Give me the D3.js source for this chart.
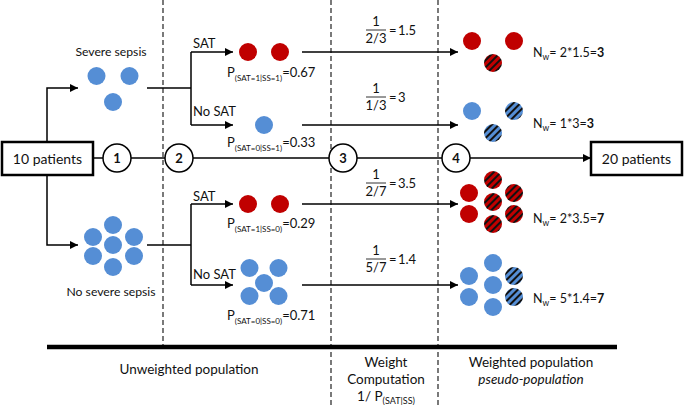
<!DOCTYPE html>
<html><head><meta charset="utf-8">
<script src="https://cdn.jsdelivr.net/npm/d3@7"></script>
<style>body{margin:0;background:#fff} svg{display:block;font-family:Lato,'Open Sans',sans-serif}</style>
</head><body><svg id="c" width="685" height="405"></svg>
<script>
// ---- data ----
const groups = ["Severe sepsis", "No severe sepsis"];
const groupCounts = [3, 7];
const treatmentLabels = ["SAT", "No SAT", "SAT", "No SAT"];
const treatmentCounts = [2, 1, 2, 5];
const probLabels = ["SAT=1|SS=1", "SAT=0|SS=1", "SAT=1|SS=0", "SAT=0|SS=0"];
const probValues = [0.67, 0.33, 0.29, 0.71];
const fracDenoms = ["2/3", "1/3", "2/7", "5/7"];
const weights = [1.5, 3, 3.5, 1.4];
const weightedN = [3, 3, 7, 7];
const stepLabels = ["1", "2", "3", "4"];
const totalLabels = ["10 patients", "20 patients"];

// ---- layout ----
const RED = "#C00000", BLUE = "#558ED5";
const svg = d3.select("#c");
const defs = svg.append("defs");
defs.append("marker").attr("id","ah").attr("viewBox","0 0 10 10").attr("refX",10).attr("refY",5)
  .attr("markerUnits","userSpaceOnUse").attr("markerWidth",9).attr("markerHeight",8).attr("orient","auto")
  .append("path").attr("d","M0,0L10,5L0,10z").attr("fill","#000");
[["stR",RED],["stB",BLUE]].forEach(([id,c])=>{
  const p = defs.append("pattern").attr("id",id).attr("patternUnits","userSpaceOnUse")
    .attr("width",5).attr("height",5).attr("patternTransform","rotate(45)");
  p.append("rect").attr("width",5).attr("height",5).attr("fill",c);
  p.append("rect").attr("width",2).attr("height",5).attr("fill","#111");
});

const mainY = 158;
const rowY = [52, 125, 204, 285];
const groupY = [88, 245];
const stepX = d3.scaleOrdinal().domain(stepLabels).range([117, 179, 343, 456]);
const R = 9;

// dashed separators
[[163, 347], [331, 405], [438, 405]].forEach(([x, y2]) => {
  svg.append("line").attr("x1",x).attr("x2",x).attr("y1",0).attr("y2",y2)
    .attr("stroke","#222").attr("stroke-width",1.2).attr("stroke-dasharray","5,3");
});

function line(pts, arrow) {
  svg.append("path").attr("d", d3.line()(pts)).attr("fill","none")
    .attr("stroke","#000").attr("stroke-width",1.5)
    .attr("marker-end", arrow ? "url(#ah)" : null);
}
function txt(x, y, s, size, anchor, extra) {
  const t = svg.append("text").attr("x",x).attr("y",y).attr("font-size",size)
    .attr("text-anchor",anchor||"start").attr("fill","#111").text(s);
  if (extra) extra(t);
  return t;
}

// main line
line([[93, mainY],[103, mainY]]);
line([[131, mainY],[165, mainY]]);
line([[193, mainY],[329, mainY]]);
line([[357, mainY],[442, mainY]]);
line([[470, mainY],[591, mainY]], true);

// boxes
[[2, totalLabels[0]], [591, totalLabels[1]]].forEach(([x, s]) => {
  svg.append("rect").attr("x",x).attr("y",142).attr("width",91).attr("height",33)
    .attr("fill","#fff").attr("stroke","#000").attr("stroke-width",2.5);
  txt(x + 45.5, 164, s, 14, "middle");
});

// step circles
stepLabels.forEach(s => {
  svg.append("circle").attr("cx",stepX(s)).attr("cy",mainY).attr("r",14)
    .attr("fill","#fff").attr("stroke","#000").attr("stroke-width",1.5);
  txt(stepX(s), mainY + 5, s, 13, "middle", t => t.attr("font-weight","bold"));
});

// split from 10 patients to groups
line([[47,142],[47,groupY[0]],[78,groupY[0]]], true);
line([[47,175],[47,groupY[1]],[78,groupY[1]]], true);

// cluster layouts
const layouts = {
  tri: [[-16.5,-12],[16.5,-12],[0,14]],
  hex: [[-20,-8],[-20,11],[0,-20],[0,0],[0,22],[21,-8],[21,11]],
  pair: [[-16,0],[16,0]],
  one: [[0,0]],
  quin: [[-14.5,-15],[14.5,-15],[0,0],[-14.5,13],[14.5,13]],
  wtri: [[-21,-11],[21,-11],[0,11]],
  whex: [[-24,-9],[-24,12],[0,-22],[0,0],[0,22],[21,-9],[21,12]]
};
function dots(cx, cy, key, fills) {
  svg.append("g").selectAll("circle").data(layouts[key]).join("circle")
    .attr("cx", d => cx + d[0]).attr("cy", d => cy + d[1]).attr("r", R)
    .attr("fill", (d, i) => fills[i]);
}

// groups
groups.forEach((g, i) => {
  const n = groupCounts[i];
  dots(113, i === 0 ? 88 : 245, n === 3 ? "tri" : "hex", d3.range(n).map(() => BLUE));
  txt(111, i === 0 ? 56 : 296, g, 12.2, "middle");
  const y1 = rowY[i*2], y2 = rowY[i*2+1];
  line([[147, groupY[i]],[191, groupY[i]]]);
  line([[191, y1],[191, y2]]);
});

const pY = [77, 147, 228, 320];
const satLabY = [48, 116, 201, 279];
const fracY = [30, 97, 183, 259];
const nwY = [57, 128, 223, 303];
const wCenterY = [52, 122, 202, 285];

treatmentLabels.forEach((lab, i) => {
  const y = rowY[i];
  const sat = lab === "SAT";
  const color = sat ? RED : BLUE;
  line([[191, y],[233, y]], true);
  txt(193, satLabY[i], lab, 13);
  const n = treatmentCounts[i];
  const key = n === 1 ? "one" : n === 2 ? "pair" : "quin";
  dots(264, n === 5 ? 283 : y, key, d3.range(n).map(() => color));
  // probability label
  txt(227, pY[i], "P", 13, "start", t => {
    t.append("tspan").attr("font-size",8).attr("dy",4).text("(" + probLabels[i] + ")");
    t.append("tspan").attr("dy",-4).text("=" + probValues[i].toFixed(2));
  });
  line([[302, y],[458, y]], true);
  // fraction
  const fy = fracY[i];
  txt(376, fy - 4, "1", 13, "middle");
  svg.append("line").attr("x1",366).attr("x2",386).attr("y1",fy).attr("y2",fy)
    .attr("stroke","#333").attr("stroke-width",1);
  txt(376, fy + 13, fracDenoms[i], 13, "middle");
  txt(389, fy + 5, "=", 13);
  txt(398, fy + 5, String(weights[i]), 13);
  // weighted population
  const N = weightedN[i];
  const fills = d3.range(N).map(k => k < n ? color : (sat ? "url(#stR)" : "url(#stB)"));
  dots(493, wCenterY[i], N === 3 ? "wtri" : "whex", fills);
  txt(533, nwY[i], "N", 12.5, "start", t => {
    t.append("tspan").attr("font-size",8.5).attr("dy",3).text("w");
    t.append("tspan").attr("dy",-3).text("= " + n + "*" + weights[i] + "=");
    t.append("tspan").attr("font-weight","bold").text(String(N));
  });
});

// bottom section
svg.append("line").attr("x1",47).attr("x2",617).attr("y1",347).attr("y2",347)
  .attr("stroke","#000").attr("stroke-width",4.5);
txt(189, 374, "Unweighted population", 13.5, "middle");
txt(386, 367, "Weight", 13.5, "middle");
txt(386, 384, "Computation", 13.5, "middle");
txt(386, 401, "1/ P", 13.5, "middle", t => {
  t.append("tspan").attr("font-size",9).attr("dy",3).text("(SAT|SS)");
});
txt(531, 367, "Weighted population", 13.5, "middle");
txt(531, 384, "pseudo-population", 13.5, "middle", t => t.attr("font-style","italic"));
</script></body></html>
